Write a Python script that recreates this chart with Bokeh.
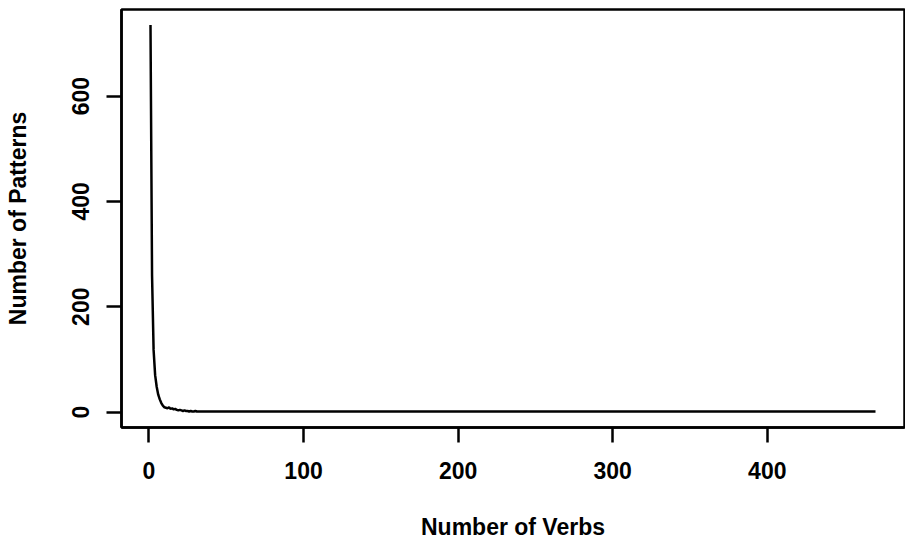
from bokeh.plotting import figure
from bokeh.models import Range1d, FixedTicker
from bokeh.embed import file_html
from bokeh.resources import INLINE

# Number of verbs (x) vs number of patterns having that many verbs (y)
verbs = [1, 2, 3, 4, 5, 6, 7, 8, 9, 10, 11, 12, 13, 14, 15, 16, 17, 18, 19, 20,
         21, 22, 23, 24, 25, 26, 27, 28, 29, 30, 31, 33, 35, 38, 41, 44, 48, 52,
         57, 63, 70, 78, 86, 95, 105, 118, 132, 150, 170, 195, 225, 260, 300,
         350, 410, 470]
patterns = [735, 260, 118, 70, 48, 33, 24, 17, 12, 9, 8, 7, 9, 6, 7, 5, 6, 4, 3, 4,
            3, 2, 3, 2, 2, 1, 2, 1, 1, 2, 1, 1, 1, 1, 1, 1, 1, 1,
            1, 1, 1, 1, 1, 1, 1, 1, 1, 1, 1, 1, 1, 1, 1,
            1, 1, 1]
x_ticks = [0, 100, 200, 300, 400]
y_ticks = [0, 200, 400, 600]

x_pad = (max(verbs) - min(verbs)) * 0.04
y_pad = (max(patterns) - 0) * 0.04

FONT = "Liberation Sans"
FS = "23px"

p = figure(width=905, height=542, output_backend="svg", toolbar_location=None,
           x_range=Range1d(min(verbs) - x_pad, max(verbs) + x_pad),
           y_range=Range1d(0 - y_pad, max(patterns) + y_pad),
           min_border_left=121, min_border_top=9, min_border_right=1,
           min_border_bottom=115,
           x_axis_label="Number of Verbs", y_axis_label="Number of Patterns")

p.line(verbs, patterns, line_color="black", line_width=2.5)

p.grid.visible = False
p.outline_line_color = "black"
p.outline_line_width = 2.5
p.background_fill_color = "white"
p.border_fill_color = "white"

for ax, ticks in ((p.xaxis[0], x_ticks), (p.yaxis[0], y_ticks)):
    ax.ticker = FixedTicker(ticks=ticks)
    ax.axis_line_color = "black"
    ax.axis_line_width = 2.5
    ax.major_tick_line_color = "black"
    ax.major_tick_line_width = 2.5
    ax.major_tick_in = 0
    ax.major_tick_out = 15
    ax.minor_tick_line_color = None
    ax.major_label_text_font = FONT
    ax.major_label_text_font_size = FS
    ax.major_label_text_font_style = "bold"
    ax.major_label_text_color = "black"
    ax.axis_label_text_font = FONT
    ax.axis_label_text_font_size = FS
    ax.axis_label_text_font_style = "bold"
    ax.axis_label_text_color = "black"

p.xaxis[0].major_label_standoff = 19
p.xaxis[0].axis_label_standoff = 32
p.yaxis[0].major_label_orientation = "vertical"
p.yaxis[0].major_label_standoff = 17
p.yaxis[0].axis_label_standoff = 39

open("out.html", "w").write(file_html(p, INLINE))
